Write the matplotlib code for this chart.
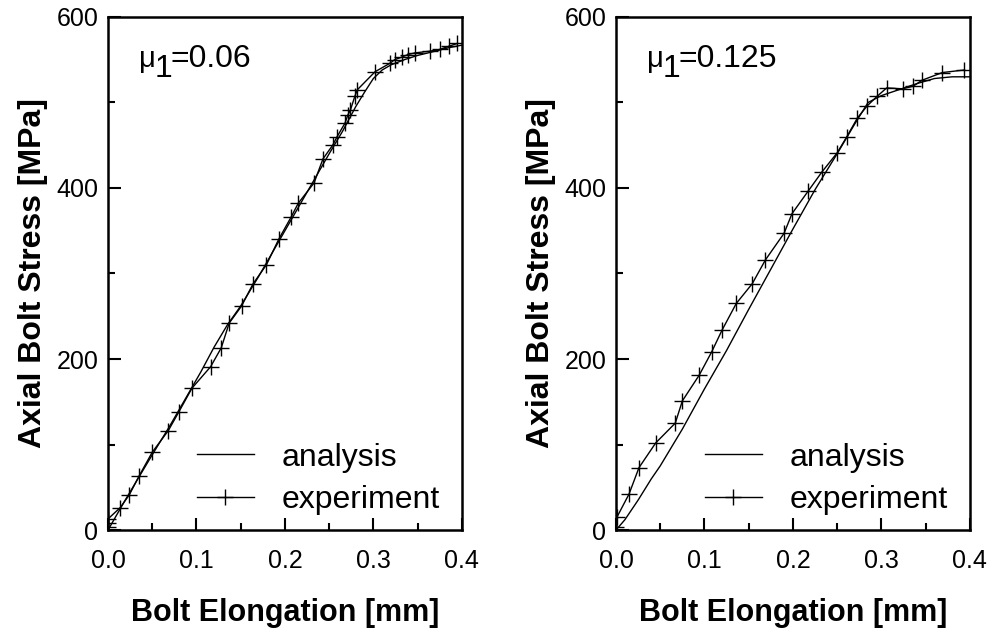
import numpy as np
import matplotlib
matplotlib.use("Agg")
import matplotlib.pyplot as plt
from matplotlib.ticker import MultipleLocator

plt.rcParams['font.family'] = ['Liberation Sans', 'DejaVu Sans']

# left panel, mu1 = 0.06
ana1_x = [0.0, 0.01, 0.02, 0.035, 0.05, 0.07, 0.09, 0.105, 0.12, 0.135, 0.15, 0.17,
          0.19, 0.21, 0.23, 0.25, 0.265, 0.28, 0.29, 0.30, 0.31, 0.32, 0.335, 0.35,
          0.37, 0.385, 0.40]
ana1_y = [0, 18, 36, 62, 88, 122, 158, 185, 214, 240, 262, 296, 332, 368, 404, 440,
          466, 495, 512, 528, 538, 544, 550, 555, 560, 564, 567]
exp1_x = [0.0, 0.0, 0.0, 0.0136, 0.024, 0.035, 0.05, 0.068, 0.080, 0.095, 0.116,
          0.128, 0.137, 0.151, 0.164, 0.179, 0.193, 0.207, 0.215, 0.233, 0.243,
          0.254, 0.259, 0.268, 0.271, 0.274, 0.279, 0.282, 0.302, 0.319, 0.324,
          0.332, 0.339, 0.347, 0.364, 0.375, 0.386, 0.395]
exp1_y = [3, 8, 13, 26, 41, 63, 91, 116, 138, 166, 191, 213, 242, 262, 288, 310,
          340, 366, 382, 406, 434, 450, 460, 476, 485, 491, 507, 515, 536, 546,
          550, 553, 556, 558, 560, 562, 566, 569]

# right panel, mu1 = 0.125
ana2_x = [0.0, 0.01, 0.025, 0.04, 0.05, 0.075, 0.1, 0.125, 0.15, 0.175, 0.2, 0.225,
          0.25, 0.27, 0.285, 0.30, 0.32, 0.34, 0.36, 0.38, 0.40]
ana2_y = [0, 12, 35, 60, 75, 118, 165, 210, 258, 305, 352, 398, 440, 475, 500, 508,
          515, 522, 528, 530, 530]
exp2_x = [0.0, 0.001, 0.0147, 0.026, 0.045, 0.067, 0.075, 0.094, 0.108, 0.120,
          0.136, 0.154, 0.169, 0.190, 0.199, 0.217, 0.233, 0.250, 0.261, 0.273,
          0.284, 0.295, 0.306, 0.324, 0.336, 0.346, 0.369, 0.394]
exp2_y = [3, 15, 42, 73, 102, 125, 151, 181, 208, 234, 265, 288, 316, 347, 370,
          396, 419, 441, 460, 482, 496, 507, 517, 516, 519, 526, 535, 538]

xticks = [0.0, 0.1, 0.2, 0.3, 0.4]
xticklabels = ['0.0', '0.1', '0.2', '0.3', '0.4']
yticks = [0, 200, 400, 600]

panels = [
    (ana1_x, ana1_y, exp1_x, exp1_y, '0.06'),
    (ana2_x, ana2_y, exp2_x, exp2_y, '0.125'),
]

fig = plt.figure(figsize=(9.91, 6.28), dpi=100)
positions = [[0.109, 0.156, 0.357, 0.817], [0.6216, 0.156, 0.357, 0.817]]

for pos, (ax_, ay_, ex_, ey_, mu) in zip(positions, panels):
    ax = fig.add_axes(pos)
    ax.plot(ax_, ay_, color='black', lw=1.0, label='analysis')
    ax.plot(ex_, ey_, color='black', lw=1.0, marker='+', markersize=12,
            markeredgewidth=1.0, label='experiment')
    ax.set_xlim(0, 0.4)
    ax.set_ylim(0, 600)
    ax.set_xticks(xticks)
    ax.set_xticklabels(xticklabels)
    ax.set_yticks(yticks)
    ax.xaxis.set_minor_locator(MultipleLocator(0.05))
    ax.yaxis.set_minor_locator(MultipleLocator(100))
    ax.tick_params(which='major', direction='in', length=9, width=1.5, labelsize=18)
    ax.tick_params(which='minor', direction='in', length=5, width=1.5)
    ax.tick_params(axis='x', which='major', pad=14)
    ax.tick_params(axis='y', which='major', pad=7)
    for s in ax.spines.values():
        s.set_linewidth(1.8)
    ax.set_xlabel('Bolt Elongation [mm]', fontsize=22, fontweight='bold', labelpad=18)
    ax.set_ylabel('Axial Bolt Stress [MPa]', fontsize=23, fontweight='bold', labelpad=6)

    # mu_1 annotation
    ax.text(0.035, 541, 'μ', fontsize=21)
    ax.text(0.053, 530, '1', fontsize=23)
    ax.text(0.071, 541, '=' + mu, fontsize=23)

    ax.legend(loc='lower right', bbox_to_anchor=(1.0, -0.015), frameon=False,
              fontsize=23, handlelength=1.8, handletextpad=0.85, labelspacing=0.4,
              borderaxespad=0.3)

fig.savefig('out.png', dpi=100)
